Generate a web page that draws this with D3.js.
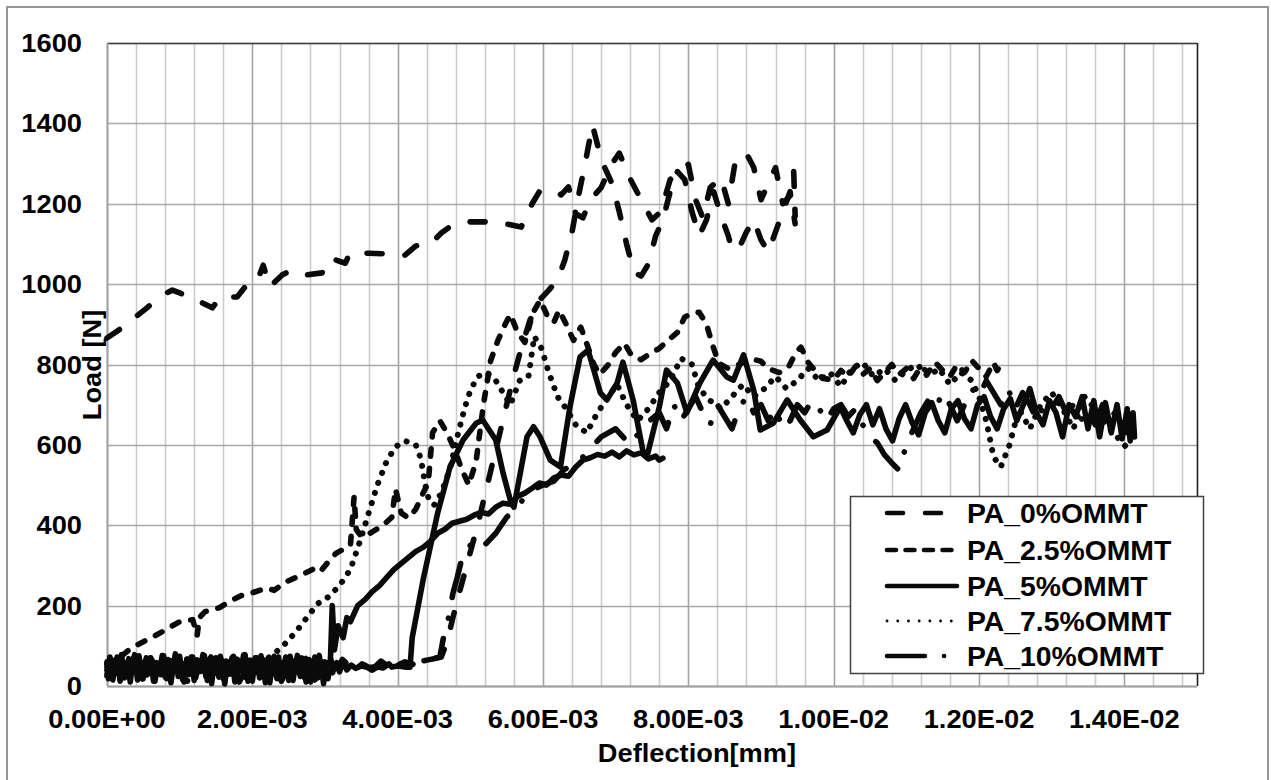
<!DOCTYPE html>
<html>
<head>
<meta charset="utf-8">
<script src="https://cdn.jsdelivr.net/npm/d3@7"></script>
<style>
body { margin: 0; background: #fff; }
text { font-family: Arial, "Liberation Sans", sans-serif; font-weight: bold; fill: #000; }
</style>
</head>
<body>
<div id="chart"></div>
<script>
// deflection values are in units of 1e-3 mm, load in N
var xTicks = [0, 2, 4, 6, 8, 10, 12, 14];
var yTicks = [0, 200, 400, 600, 800, 1000, 1200, 1400, 1600];
var legendNames = ["PA_0%OMMT", "PA_2.5%OMMT", "PA_5%OMMT", "PA_7.5%OMMT", "PA_10%OMMT"];

var pa0 = [[0,40],[0.12,65],[0.24,22],[0.36,58],[0.48,30],[0.6,70],[0.72,18],[0.84,52],[0.96,38],[1.08,75],[1.2,25],[1.32,60],[1.44,15],[1.56,55],[1.68,35],[1.8,72],[1.92,20],[2.04,62],[2.16,40],[2.28,68],[2.4,12],[2.52,57],[2.64,33],[2.76,70],[2.88,24],[3.0,60],[3.12,30],[3.24,66],[3.36,45],[3.5,58],[3.65,40],[3.8,55],[3.95,48],[4.1,60],[4.25,52],[4.4,62],[4.5,68],[4.6,72],
  [4.68,110],[4.76,170],[4.86,240],[4.98,320],[5.1,400],[5.22,490],[5.34,580],[5.46,670],[5.58,760],[5.7,840],[5.82,910],[5.95,960],[6.08,985],[6.2,1010],[6.3,1060],[6.4,1130],[6.5,1230],[6.58,1300],[6.68,1396],[6.76,1340],[6.85,1290],[6.95,1250],[7.05,1180],[7.15,1100],[7.25,1030],[7.35,1020],[7.45,1050],[7.55,1120],[7.65,1160],[7.75,1230],[7.85,1280],[7.95,1260],[8.05,1180],[8.15,1120],[8.25,1160],[8.35,1230],[8.45,1170],[8.55,1120],[8.6,1085],[8.7,1090],[8.8,1130],[8.9,1160],[9.0,1110],[9.1,1080],[9.2,1130],[9.3,1180],[9.4,1230],[9.47,1150]];

var pa25 = [[0,47],[0.1,55],[0.18,72],[0.27,85],[0.36,97],[0.5,110],[0.63,122],[0.76,135],[0.9,150],[1.0,160],[1.18,165],[1.24,125],[1.27,170],[1.35,185],[1.55,195],[1.7,212],[1.85,225],[2.0,232],[2.2,244],[2.3,238],[2.45,258],[2.6,270],[2.75,283],[2.9,296],[2.95,288],[3.05,310],[3.15,330],[3.25,340],[3.35,350],[3.4,470],[3.43,390],[3.5,372],[3.62,380],[3.8,400],[3.92,420],[3.97,490],[4.05,430],[4.15,418],[4.25,440],[4.35,480],[4.42,505],[4.48,630],[4.58,660],[4.68,630],[4.78,590],[4.88,540],[4.98,500],
  [5.08,560],[5.18,700],[5.28,810],[5.38,860],[5.48,900],[5.55,925],[5.65,880],[5.75,855],[5.86,928],[5.96,960],[6.05,925],[6.15,905],[6.22,935],[6.32,900],[6.42,860],[6.52,893],[6.6,853],[6.7,800],[6.78,775],[6.9,800],[7.0,830],[7.12,853],[7.22,822],[7.35,812],[7.48,828],[7.6,840],[7.72,860],[7.85,880],[7.95,918],[8.05,928],[8.15,930],[8.25,900],[8.33,850],[8.42,803],[8.55,790],[8.7,800],[8.85,815],[9.0,808],[9.1,790],[9.25,780],[9.38,794],[9.48,830],[9.55,843],[9.65,805],[9.72,790],[9.85,765],
  [10.0,762],[10.1,785],[10.2,770],[10.3,795],[10.4,775],[10.5,790],[10.6,760],[10.7,780],[10.8,800],[10.9,775],[11.0,790],[11.1,765],[11.2,795],[11.3,780],[11.4,805],[11.5,785],[11.6,770],[11.7,800],[11.8,780],[11.9,810],[12.0,790],[12.1,770],[12.2,805],[12.25,785],[12.3,800]];

var pa5 = [[0,30],[0.04,72],[0.08,15],[0.12,64],[0.16,38],[0.2,78],[0.24,20],[0.28,55],[0.32,10],[0.36,68],[0.4,42],[0.44,75],[0.48,18],[0.52,60],[0.56,30],[0.6,70],[0.64,12],[0.68,58],[0.72,35],[0.76,76],[0.8,22],[0.84,66],[0.88,8],[0.92,62],[0.96,40],[1.0,74],[1.04,16],[1.08,57],[1.12,28],[1.16,72],[1.2,14],[1.24,65],[1.28,36],[1.32,78],[1.36,24],[1.4,60],[1.44,6],[1.48,68],[1.52,44],[1.56,74],[1.6,18],[1.64,62],[1.68,30],[1.72,70],[1.76,10],[1.8,56],[1.84,38],[1.88,77],[1.92,20],[1.96,64],[2.0,12],[2.04,70],[2.08,34],[2.12,75],[2.16,22],[2.2,58],[2.24,8],[2.28,66],[2.32,40],[2.36,72],[2.4,16],[2.44,60],[2.48,28],[2.52,74],[2.56,14],[2.6,62],[2.64,36],[2.68,70],[2.72,20],[2.76,64],[2.8,10],[2.84,58],[2.88,42],[2.92,76],[2.96,26],[3.0,60],[3.04,18],[3.08,66],
  [3.12,40],[3.16,58],[3.2,35],[3.25,62],[3.3,40],[3.36,52],[3.42,44],[3.5,50],[3.6,46],[3.7,48],[3.8,45],[3.88,55],[3.92,47],[4.0,50],[4.1,47],[4.17,47],
  [4.2,120],[4.35,264],[4.55,430],[4.72,545],[4.9,612],[5.08,654],[5.17,662],[5.35,612],[5.45,530],[5.55,463],[5.6,445],[5.78,620],[5.87,645],[5.96,620],[6.1,562],[6.24,545],[6.37,694],[6.51,819],[6.62,836],[6.79,729],[6.88,712],[7.02,754],[7.1,806],[7.24,712],[7.38,580],[7.43,570],[7.6,694],[7.7,786],[7.85,754],[7.98,680],[8.16,754],[8.34,811],[8.53,769],[8.62,761],[8.76,824],[8.9,736],[8.99,637],[9.17,654],[9.36,712],[9.54,662],[9.72,620],[9.91,637],
  [10.09,694],[10.18,660],[10.27,630],[10.36,675],[10.45,700],[10.54,650],[10.63,690],[10.72,640],[10.81,610],[10.9,665],[10.99,700],[11.08,655],[11.17,625],[11.26,680],[11.35,705],[11.44,660],[11.53,630],[11.62,690],[11.71,710],[11.8,665],[11.89,640],[11.98,700],[12.07,720],[12.16,670],[12.25,640],[12.34,690],[12.43,715],[12.52,660],[12.61,700],[12.7,740],[12.79,680],[12.88,650],[12.97,710],[13.06,680],[13.15,620],[13.24,700],[13.33,670],[13.42,720],[13.5,640],[13.58,710],[13.66,620],[13.74,705],[13.82,630],[13.9,700],[13.97,615],[14.04,690],[14.08,610],[14.12,680],[14.14,620]];

var pa75 = [[0,55],[0.1,20],[0.2,70],[0.3,35],[0.4,62],[0.5,15],[0.6,58],[0.7,40],[0.8,75],[0.9,25],[1.0,60],[1.1,10],[1.2,66],[1.3,30],[1.4,72],[1.5,22],[1.6,55],[1.7,38],[1.8,70],[1.9,18],[2.0,63],[2.1,35],[2.2,68],[2.3,80],
  [2.45,105],[2.6,135],[2.75,170],[2.9,205],[3.05,222],[3.2,250],[3.35,290],[3.5,370],[3.6,430],[3.72,500],[3.85,560],[3.97,595],[4.1,610],[4.25,600],[4.32,565],[4.38,500],[4.42,470],[4.5,450],[4.6,480],[4.72,540],[4.82,620],[4.92,690],[5.0,735],[5.1,770],[5.22,780],[5.35,760],[5.45,730],[5.55,700],[5.68,760],[5.8,770],[5.88,870],[5.98,840],[6.08,780],[6.2,720],[6.32,690],[6.45,650],[6.6,630],[6.75,680],[6.9,720],[7.02,750],[7.15,700],[7.3,660],[7.45,690],[7.6,730],[7.75,760],[7.9,815],[8.05,800],[8.15,740],[8.3,710],[8.45,690],[8.6,720],[8.75,750],[8.9,720],[9.05,740],[9.2,770],[9.35,740],[9.5,760],[9.65,790],[9.8,760],[9.95,780],[10.1,745],[10.25,790],[10.4,805],[10.55,770],[10.7,790],[10.85,760],[11.0,785],[11.15,800],[11.3,770],[11.45,790],[11.6,750],[11.75,780],[11.9,760],[12.0,720],[12.1,660],[12.2,570],[12.3,545],[12.42,600],[12.55,690],[12.7,640],[12.85,700],[13.0,730],[13.15,690],[13.3,640],[13.45,720],[13.6,690],[13.75,650],[13.9,620],[14.0,600],[14.1,580]];

var pa10 = [[0,25],[0.13,60],[0.26,35],[0.39,75],[0.52,20],[0.65,55],[0.78,42],[0.91,68],[1.04,15],[1.17,58],[1.3,38],[1.43,72],[1.56,28],[1.69,62],[1.82,10],[1.95,55],[2.08,45],[2.21,74],[2.34,20],[2.47,60],[2.6,38],[2.73,70],[2.86,15],[2.99,58],[3.12,30],[3.25,65],[3.38,35],[3.51,55],[3.64,40],[3.77,62],[3.9,45],[4.03,58],[4.16,48],[4.29,60],[4.42,65],[4.5,68],[4.58,72],
  [4.63,120],[4.7,170],[4.76,230],[4.82,270],[4.9,330],[5.0,350],[5.1,335],[5.22,355],[5.35,380],[5.5,420],[5.62,440],[5.75,470],[5.88,490],[6.0,500],[6.15,510],[6.3,540],[6.45,550],[6.6,580],[6.8,620],[7.0,640],[7.2,600],[7.4,650],
  [7.6,680],[7.7,640],[7.8,700],[7.9,660],[8.0,690],[8.1,720],[8.2,680],[8.3,650],[8.4,700],[8.5,670],[8.6,640],[8.7,690],[8.8,720],[8.9,680],[9.0,700],[9.1,660],[9.2,690],[9.3,640],[9.4,660],[9.5,700],[9.6,680],[9.7,710],[9.8,690],[9.9,660],[10.0,690],[10.1,700],[10.2,670],[10.3,690],[10.4,650],[10.5,620],[10.6,605],[10.7,575],[10.8,555],[10.9,537],[11.0,600],[11.1,640],[11.2,680],[11.3,710],[11.4,690],[11.5,730],[11.6,700],[11.7,660],[11.8,700],[11.9,740],[12.0,720],[12.1,760],[12.2,730],[12.3,700],[12.4,740],[12.5,690],[12.6,730],[12.7,700],[12.8,660],[12.9,700],[13.0,690],[13.1,720],[13.2,680],[13.3,700],[13.4,660],[13.5,690],[13.6,650],[13.7,700],[13.8,660],[13.9,690],[14.0,640],[14.1,620]];

// two more traces that have no entry in the legend
var extraDash = [[0,866],[0.18,888],[0.39,918],[0.55,941],[0.76,973],[0.9,985],[1.0,978],[1.18,965],[1.45,941],[1.56,968],[1.79,968],[1.9,993],[2.06,1005],[2.15,1047],[2.24,993],[2.41,1023],[2.55,1035],[2.75,1023],[2.96,1028],[3.07,1065],[3.28,1052],[3.34,1077],[3.6,1077],[3.9,1075],[4.1,1072],[4.25,1095],[4.45,1100],[4.6,1127],[4.75,1147],[5.0,1155],[5.3,1155],[5.55,1148],[5.7,1142],[5.85,1200],[5.95,1230],[6.1,1236],[6.25,1222],[6.35,1242],[6.45,1175],[6.55,1165],[6.65,1210],[6.8,1240],[6.95,1300],[7.05,1326],[7.2,1262],[7.35,1210],[7.5,1160],[7.62,1180],[7.75,1260],[7.9,1285],[8.0,1298],[8.1,1210],[8.2,1165],[8.3,1240],[8.45,1265],[8.55,1200],[8.65,1310],[8.8,1325],[8.9,1290],[9.0,1210],[9.1,1250],[9.2,1290],[9.3,1200],[9.4,1220],[9.45,1280],[9.47,1170]];

var extraSolid = [[0,60],[0.02,18],[0.06,66],[0.1,30],[0.14,72],[0.18,12],[0.22,50],[0.26,25],[0.3,68],[0.34,38],[0.38,78],[0.42,15],[0.46,60],[0.5,22],[0.54,70],[0.58,40],[0.62,64],[0.66,12],[0.7,56],[0.74,28],[0.78,75],[0.82,18],[0.86,62],[0.9,36],[0.94,80],[0.98,24],[1.02,58],[1.06,10],[1.1,66],[1.14,30],[1.18,72],[1.22,20],[1.26,55],[1.3,38],[1.34,76],[1.38,14],[1.42,62],[1.46,32],[1.5,70],[1.54,22],[1.58,64],[1.62,5],[1.66,60],[1.7,30],[1.74,74],[1.78,16],[1.82,58],[1.86,42],[1.9,78],[1.94,12],[1.98,64],[2.02,34],[2.06,70],[2.1,20],[2.14,60],[2.18,8],[2.22,68],[2.26,38],[2.3,74],[2.34,18],[2.38,56],[2.42,30],[2.46,72],[2.5,14],[2.54,64],[2.58,40],[2.62,76],[2.66,24],[2.7,60],[2.74,10],[2.78,66],[2.82,34],[2.86,72],[2.9,20],[2.94,62],[2.98,6],[3.02,58],[3.05,30],
  [3.07,40],[3.1,200],[3.13,90],[3.18,150],[3.25,120],[3.3,170],[3.35,160],[3.45,200],[3.55,215],[3.65,235],[3.75,250],[3.85,270],[3.95,290],[4.05,305],[4.15,320],[4.25,335],[4.35,345],[4.45,360],[4.55,380],[4.65,390],[4.75,405],[4.85,410],[4.95,415],[5.05,425],[5.15,432],[5.25,428],[5.35,445],[5.45,455],[5.55,452],[5.65,472],[5.75,480],[5.85,492],[5.95,505],[6.05,500],[6.15,518],[6.25,525],[6.35,522],[6.45,545],[6.55,562],[6.65,568],[6.75,576],[6.85,572],[6.95,582],[7.05,570],[7.15,585],[7.25,575],[7.35,580],[7.45,565],[7.55,572],[7.6,562],[7.65,567]];

var series = [
  { data: pa0, dash: "15,23", width: 5.6 },
  { data: pa25, dash: "7.5,12", width: 5.6 },
  { data: pa5, dash: null, width: 5.6 },
  { data: pa75, dash: "0.1,10.5", width: 6 },
  { data: pa10, dash: "35,21,0.1,21", width: 5.6 },
  { data: extraDash, dash: "15,23", width: 5.6 },
  { data: extraSolid, dash: null, width: 5.6 }
];

var W = 1271, H = 780;
var plotL = 107, plotR = 1197, plotT = 43, plotB = 686;

var svg = d3.select("#chart").append("svg")
  .attr("width", W)
  .attr("height", H);

svg.append("rect").attr("width", W).attr("height", H).attr("fill", "#fff");
// outer frame
svg.append("rect")
  .attr("x", 7).attr("y", 7).attr("width", 1261).attr("height", 790)
  .attr("fill", "none").attr("stroke", "#8c8c8c").attr("stroke-width", 1.8);

var x = d3.scaleLinear().domain([0, 15]).range([plotL, plotR]);
var y = d3.scaleLinear().domain([0, 1600]).range([plotB, plotT]);

function sci(v) {
  var val = v * 1e-3;
  if (val === 0) return "0.00E+00";
  var e = Math.floor(Math.log10(val) + 1e-9);
  var m = val / Math.pow(10, e);
  return m.toFixed(2) + "E" + (e < 0 ? "-" : "+") + String(Math.abs(e)).padStart(2, "0");
}

// grid
var minor = d3.range(0, 15.01, 0.4);
svg.append("g").selectAll("line")
  .data(minor)
  .enter().append("line")
  .attr("x1", function (d) { return Math.round(x(d)) + 0.5; })
  .attr("x2", function (d) { return Math.round(x(d)) + 0.5; })
  .attr("y1", plotT).attr("y2", plotB)
  .attr("stroke", function (d) { return Math.abs(d / 2 - Math.round(d / 2)) < 1e-6 ? "#a3a3a3" : "#cccccc"; })
  .attr("stroke-width", 1.6);

svg.append("g").selectAll("line")
  .data(yTicks)
  .enter().append("line")
  .attr("x1", plotL).attr("x2", plotR)
  .attr("y1", function (d) { return Math.round(y(d)) + 0.5; })
  .attr("y2", function (d) { return Math.round(y(d)) + 0.5; })
  .attr("stroke", "#a8a8a8")
  .attr("stroke-width", 1.6);

// plot border
svg.append("line").attr("x1", plotL).attr("x2", plotR).attr("y1", plotT + 0.5).attr("y2", plotT + 0.5).attr("stroke", "#404040").attr("stroke-width", 1.4);
svg.append("line").attr("x1", plotR + 0.5).attr("x2", plotR + 0.5).attr("y1", plotT).attr("y2", plotB).attr("stroke", "#202020").attr("stroke-width", 1.6);
svg.append("line").attr("x1", plotL + 0.5).attr("x2", plotL + 0.5).attr("y1", plotT).attr("y2", plotB).attr("stroke", "#a0a0a0").attr("stroke-width", 1.8);
svg.append("line").attr("x1", plotL).attr("x2", plotR).attr("y1", plotB + 0.5).attr("y2", plotB + 0.5).attr("stroke", "#a0a0a0").attr("stroke-width", 1.8);

// data lines
var line = d3.line()
  .x(function (d) { return x(d[0]); })
  .y(function (d) { return y(d[1]); });

svg.append("g").selectAll("path")
  .data(series)
  .enter().append("path")
  .attr("d", function (d) { return line(d.data); })
  .attr("fill", "none")
  .attr("stroke", "#0a0a0a")
  .attr("stroke-width", function (d) { return d.width; })
  .attr("stroke-linecap", "round")
  .attr("stroke-linejoin", "round")
  .attr("stroke-dasharray", function (d) { return d.dash; });

// tick labels
var labels = svg.append("g").attr("class", "labels");
labels.selectAll(".ylab")
  .data(yTicks)
  .enter().append("text")
  .attr("class", "ylab")
  .attr("x", 82)
  .attr("y", function (d) { return y(d) + 9; })
  .attr("text-anchor", "end")
  .style("font-size", "25px")
  .text(function (d) { return d; });

labels.selectAll(".xlab")
  .data(xTicks)
  .enter().append("text")
  .attr("class", "xlab")
  .attr("x", function (d) { return x(d); })
  .attr("y", 728)
  .attr("text-anchor", "middle")
  .style("font-size", "25px")
  .text(function (d) { return sci(d); });

labels.append("text")
  .attr("x", 697).attr("y", 762)
  .attr("text-anchor", "middle")
  .style("font-size", "25px")
  .text("Deflection[mm]");

labels.append("text")
  .attr("transform", "translate(101,365) rotate(-90)")
  .attr("text-anchor", "middle")
  .style("font-size", "25px")
  .text("Load [N]");

// stretch text horizontally like the source picture
labels.selectAll("text").each(function () {
  var w = this.getComputedTextLength();
  d3.select(this).attr("textLength", w * 1.09).attr("lengthAdjust", "spacingAndGlyphs");
});

// legend
var legend = svg.append("g");
legend.append("rect")
  .attr("x", 850.5).attr("y", 496.5).attr("width", 353).attr("height", 177)
  .attr("fill", "#fff").attr("stroke", "#404040").attr("stroke-width", 1.5);

var legendY = [513, 550, 586, 621, 656];
var legendDash = ["16,22", "9,9.5", null, "0.1,10.6", "38,19,0.1,19"];
legendNames.forEach(function (name, i) {
  legend.append("line")
    .attr("x1", 887).attr("x2", 957)
    .attr("y1", legendY[i]).attr("y2", legendY[i])
    .attr("stroke", "#0a0a0a")
    .attr("stroke-width", i === 3 ? 2.8 : 4.6)
    .attr("stroke-linecap", "round")
    .attr("stroke-dasharray", legendDash[i]);
  var t = legend.append("text")
    .attr("x", 967).attr("y", legendY[i] + 10)
    .style("font-size", "27px")
    .text(name);
  t.attr("textLength", t.node().getComputedTextLength() * 1.05).attr("lengthAdjust", "spacingAndGlyphs");
});
</script>
</body>
</html>
